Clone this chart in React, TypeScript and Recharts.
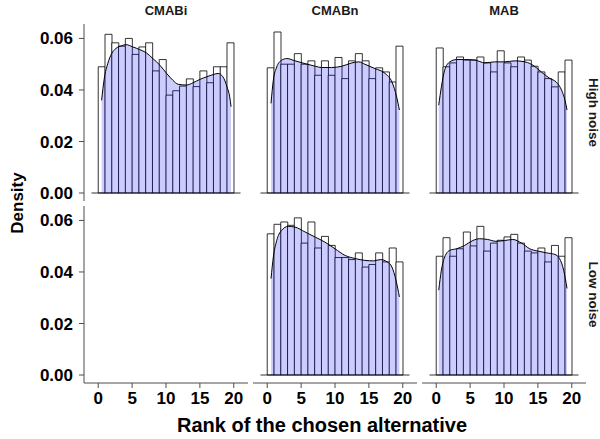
import { Area, Bar, ComposedChart, ReferenceLine, XAxis, YAxis } from "recharts";

// histogram bins (width 1), centres on the rank axis
const binCenters = [0.5, 1.5, 2.5, 3.5, 4.5, 5.5, 6.5, 7.5, 8.5, 9.5, 10.5, 11.5, 12.5, 13.5, 14.5, 15.5, 16.5, 17.5, 18.5, 19.5];
const xTicks = [0, 5, 10, 15, 20];
const yTicks = [0, 0.02, 0.04, 0.06];
const colLabels = ["CMABi", "CMABn", "MAB"];
const rowLabels = ["High noise", "Low noise"];

// High noise row
const cmabiHighHist = [0.049, 0.0616, 0.0583, 0.057, 0.06, 0.0538, 0.0567, 0.0583, 0.0474, 0.0518, 0.038, 0.0397, 0.0415, 0.0443, 0.0413, 0.0474, 0.0428, 0.049, 0.049, 0.0583];
const cmabiHighDensX = [0.5, 0.9, 1.4, 2.0, 2.6, 3.4, 4.1, 5.1, 6.1, 7.1, 8.1, 9.1, 10.1, 11.0, 11.8, 13.0, 14.0, 15.0, 16.0, 17.0, 17.7, 18.4, 19.0, 19.4, 19.6];
const cmabiHighDensY = [0.036, 0.0446, 0.0502, 0.0542, 0.0561, 0.0571, 0.0576, 0.0567, 0.0557, 0.0544, 0.0521, 0.0496, 0.0464, 0.0438, 0.0422, 0.0419, 0.0428, 0.0441, 0.0451, 0.046, 0.0464, 0.0451, 0.0412, 0.0373, 0.0335];

const cmabnHighHist = [0.0486, 0.0625, 0.05, 0.05, 0.0541, 0.05, 0.0513, 0.0457, 0.0513, 0.0457, 0.0526, 0.0444, 0.0513, 0.0541, 0.0513, 0.0444, 0.0486, 0.047, 0.0431, 0.057];
const cmabnHighDensX = [0.56, 0.9, 1.4, 2.1, 2.9, 4.1, 5.6, 7.1, 8.0, 9.5, 11.0, 12.5, 13.5, 14.4, 15.9, 17.4, 18.4, 19.1, 19.5];
const cmabnHighDensY = [0.0348, 0.0438, 0.0489, 0.0515, 0.0522, 0.0513, 0.0502, 0.0492, 0.0487, 0.0487, 0.0492, 0.0505, 0.0509, 0.05, 0.0483, 0.0464, 0.0431, 0.0373, 0.0322];

const mabHighHist = [0.0563, 0.049, 0.0505, 0.0528, 0.0516, 0.0516, 0.0528, 0.0505, 0.047, 0.0552, 0.0505, 0.049, 0.0528, 0.0516, 0.0492, 0.047, 0.0444, 0.0412, 0.047, 0.0516];
const mabHighDensX = [0.37, 0.76, 1.25, 2.0, 3.0, 4.2, 5.7, 7.2, 8.6, 10.1, 11.6, 13.1, 14.5, 15.5, 16.8, 17.7, 18.5, 19.0, 19.3];
const mabHighDensY = [0.0341, 0.0412, 0.0477, 0.0509, 0.0518, 0.0518, 0.0516, 0.0505, 0.0509, 0.0509, 0.0513, 0.0509, 0.0492, 0.047, 0.0444, 0.0431, 0.0399, 0.036, 0.0322];

// Low noise row (no CMABi data)
const cmabnLowHist = [0.0548, 0.0585, 0.0594, 0.0581, 0.061, 0.0512, 0.0594, 0.0493, 0.0538, 0.0503, 0.0456, 0.0456, 0.0448, 0.0474, 0.0419, 0.0429, 0.0474, 0.0439, 0.0493, 0.0439];
const cmabnLowDensX = [0.56, 0.9, 1.4, 2.1, 3.1, 4.1, 5.6, 7.1, 8.5, 10.0, 11.5, 13.0, 14.4, 15.7, 16.7, 17.7, 18.4, 19.0, 19.5];
const cmabnLowDensY = [0.0374, 0.0458, 0.0522, 0.0561, 0.0577, 0.0574, 0.0555, 0.0535, 0.0516, 0.049, 0.0464, 0.0452, 0.0445, 0.0443, 0.0448, 0.0439, 0.0419, 0.0368, 0.0303];

const mabLowHist = [0.0461, 0.0533, 0.0461, 0.049, 0.0555, 0.0501, 0.0577, 0.0481, 0.0512, 0.0523, 0.0536, 0.0546, 0.0512, 0.0481, 0.0474, 0.0493, 0.0439, 0.0503, 0.0461, 0.0533];
const mabLowDensX = [0.37, 0.76, 1.25, 2.0, 3.0, 4.2, 5.4, 6.4, 7.6, 8.8, 10.1, 11.3, 12.6, 13.8, 15.0, 16.3, 17.5, 18.2, 18.8, 19.3];
const mabLowDensY = [0.0329, 0.0407, 0.0458, 0.0484, 0.049, 0.0503, 0.0522, 0.0529, 0.0526, 0.0519, 0.0522, 0.0526, 0.0512, 0.049, 0.0481, 0.0474, 0.0468, 0.0452, 0.0407, 0.0336];

const FONT = '"Liberation Sans", Arial, Helvetica, sans-serif';
const AXIS_COLOR = "#4d4d4d";
const X_DOMAIN: [number, number] = [-2.1, 22.1];
const Y_DOMAIN: [number, number] = [-0.0031, 0.0656];
const PLOT_W = 164;
const PLOT_H = 177;
const Y_AXIS_W = 84;
const X_AXIS_H = 26;
const COL_LEFT = [84, 253, 422];
const ROW_TOP = [24, 206];
// the bin band axis is padded so its 20 bands sit on [0, 20] of the numeric axis
const BIN_PAD = ((0 - X_DOMAIN[0]) / (X_DOMAIN[1] - X_DOMAIN[0])) * PLOT_W;

const tickStyle = { fill: "#000", fontSize: 17, fontWeight: "bold", fontFamily: FONT };

type PanelProps = {
  left: number;
  top: number;
  hist?: number[];
  densX?: number[];
  densY?: number[];
  showX: boolean;
  showY: boolean;
};

const Panel = ({ left, top, hist, densX, densY, showX, showY }: PanelProps) => {
  const data = hist ? binCenters.map((x, i) => ({ x, h: hist[i] })) : [];
  const dens = densX && densY ? densX.map((x, i) => ({ x, d: densY[i] })) : [];
  const w = PLOT_W + (showY ? Y_AXIS_W : 0);
  const h = PLOT_H + (showX ? X_AXIS_H : 0);
  return (
    <div style={{ position: "absolute", left: left - (showY ? Y_AXIS_W : 0), top, width: w, height: h }}>
      <ComposedChart width={w} height={h} data={data} margin={{ top: 0, right: 0, bottom: 0, left: 0 }} barGap={0} barCategoryGap={0}>
        <XAxis
          type="number"
          dataKey="x"
          domain={X_DOMAIN}
          ticks={xTicks}
          interval={0}
          allowDataOverflow
          hide={!showX}
          height={X_AXIS_H}
          tick={tickStyle}
          tickSize={5}
          tickMargin={4}
          axisLine={{ stroke: AXIS_COLOR }}
          tickLine={{ stroke: AXIS_COLOR }}
        />
        <XAxis xAxisId="bins" type="category" dataKey="x" hide padding={{ left: BIN_PAD, right: BIN_PAD }} />
        <YAxis
          type="number"
          domain={Y_DOMAIN}
          ticks={yTicks}
          interval={0}
          allowDataOverflow
          hide={!showY}
          width={Y_AXIS_W}
          tick={tickStyle}
          tickSize={5}
          tickMargin={6}
          tickFormatter={(v: number) => v.toFixed(2)}
          axisLine={{ stroke: AXIS_COLOR }}
          tickLine={{ stroke: AXIS_COLOR }}
        />
        {hist && (
          <Bar xAxisId="bins" dataKey="h" fill="#ffffff" stroke="#000" strokeWidth={0.8} isAnimationActive={false} zIndex={90} />
        )}
        {hist && (
          <ReferenceLine segment={[{ x: -1, y: 0 }, { x: 21, y: 0 }]} stroke="#000" strokeWidth={0.8} />
        )}
        {densX && (
          <Area
            data={dens}
            dataKey="d"
            type="monotone"
            fill="#0000ff"
            fillOpacity={0.2}
            stroke="#000"
            strokeWidth={1}
            isAnimationActive={false}
            zIndex={350}
          />
        )}
      </ComposedChart>
    </div>
  );
};

export default function App() {
  return (
    <div style={{ position: "absolute", left: 0, top: 0, width: 600, height: 439, background: "#fff", fontFamily: FONT }}>
      <style>{".recharts-surface { overflow: visible; }"}</style>
      <Panel left={COL_LEFT[0]} top={ROW_TOP[0]} hist={cmabiHighHist} densX={cmabiHighDensX} densY={cmabiHighDensY} showX={false} showY />
      <Panel left={COL_LEFT[1]} top={ROW_TOP[0]} hist={cmabnHighHist} densX={cmabnHighDensX} densY={cmabnHighDensY} showX={false} showY={false} />
      <Panel left={COL_LEFT[2]} top={ROW_TOP[0]} hist={mabHighHist} densX={mabHighDensX} densY={mabHighDensY} showX={false} showY={false} />
      <Panel left={COL_LEFT[0]} top={ROW_TOP[1]} showX showY />
      <Panel left={COL_LEFT[1]} top={ROW_TOP[1]} hist={cmabnLowHist} densX={cmabnLowDensX} densY={cmabnLowDensY} showX showY={false} />
      <Panel left={COL_LEFT[2]} top={ROW_TOP[1]} hist={mabLowHist} densX={mabLowDensX} densY={mabLowDensY} showX showY={false} />
      <svg width={600} height={439} style={{ position: "absolute", left: 0, top: 0, pointerEvents: "none" }}>
        {colLabels.map((label, i) => (
          <text key={label} x={COL_LEFT[i] + PLOT_W / 2} y={15} textAnchor="middle" fontSize={13} fontWeight="bold" fontFamily={FONT} fill="#1a1a1a">
            {label}
          </text>
        ))}
        {rowLabels.map((label, i) => (
          <text
            key={label}
            transform={`translate(589, ${ROW_TOP[i] + PLOT_H / 2}) rotate(90)`}
            textAnchor="middle"
            fontSize={13.5}
            fontWeight="bold"
            fontFamily={FONT}
            fill="#1a1a1a"
          >
            {label}
          </text>
        ))}
        <text transform="translate(23, 203) rotate(-90)" textAnchor="middle" fontSize={17} fontWeight="bold" fontFamily={FONT} fill="#000">
          Density
        </text>
        <text x={322} y={432} textAnchor="middle" fontSize={20} fontWeight="bold" fontFamily={FONT} fill="#000">
          Rank of the chosen alternative
        </text>
      </svg>
    </div>
  );
}
